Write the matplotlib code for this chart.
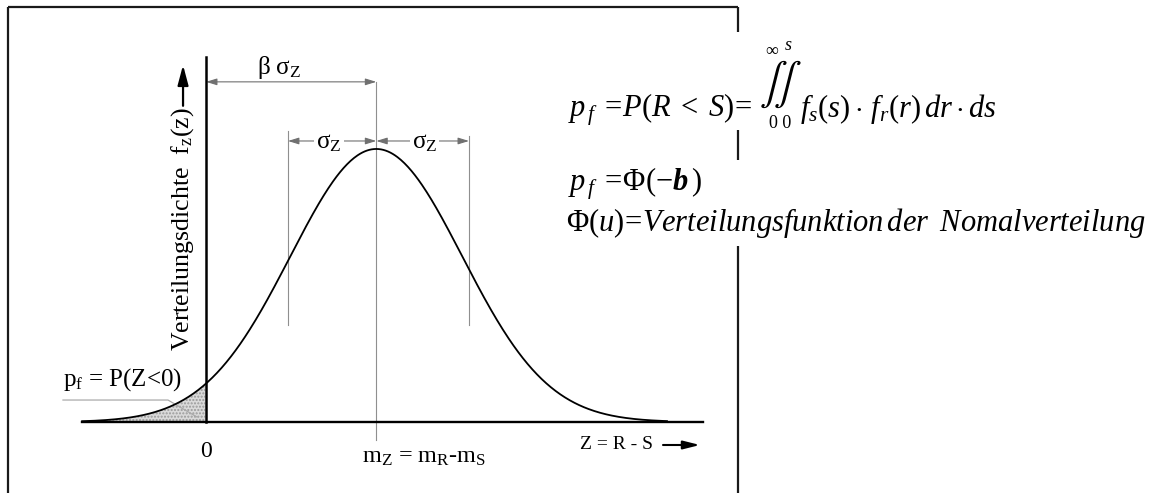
import numpy as np
import matplotlib
matplotlib.use('Agg')
import matplotlib.pyplot as plt
from matplotlib.lines import Line2D

plt.rcParams['font.family'] = ['Liberation Serif', 'DejaVu Serif']
plt.rcParams['mathtext.fontset'] = 'custom'
plt.rcParams['mathtext.rm'] = 'Liberation Serif'
plt.rcParams['mathtext.it'] = 'Liberation Serif:italic'
plt.rcParams['mathtext.bf'] = 'Liberation Serif:italic:bold'

W, H = 1160, 493

# safety margin Z = R - S, measured in units of sigma_Z
SIGMA_Z = 1.0
BETA = 1.98                  # m_Z = beta * sigma_Z
CURVE_RANGE = (-1.44, 5.36)
SIGMA_MARKS = [0.953, 3.058]
SIGMA_TOPS = [0.425, 0.418]
SIGMA_BOTTOM = 0.142
AXIS_X = (-1.442, 5.78)
AXIS_Y_TOP = 0.533

# labels
LBL_YAXIS = r'Verteilungsdichte  f$_\mathrm{z}$(z)'
LBL_XAXIS = 'Z = R - S'
LBL_ZERO = '0'
LBL_MEAN = r'm$_\mathrm{Z}$ = m$_\mathrm{R}$-m$_\mathrm{S}$'
LBL_PF = r'p$_\mathrm{f}$ = P(Z<0)'
LBL_BETA = r'β σ$_\mathrm{Z}$'
LBL_SIGMA = r'σ$_\mathrm{Z}$'

FORMULA_1A = r'$p_{\,f}\;=\!P(R\;<\;S)\!=$'
FORMULA_1B = r'$f_s(s)\cdot\,f_r(r)\,dr\cdot ds$'
FORMULA_2 = r'$p_{\,f}\;=\!\Phi(-\mathbf{b}\,)$'
FORMULA_3 = r'$\Phi(u)\!=\!Verteilungsfunktion\,der\;\;Nomalverteilung$'

PX_X, PX_Y = 86.0, 684.4     # pixels per unit on each axis
ORIGIN = (206, 422)          # pixel position of (0, 0)


def fpx(x, y):
    """ pixel position -> figure fraction """
    return x / W, 1 - y / H


def pdf(z):
    return np.exp(-0.5 * ((z - BETA) / SIGMA_Z) ** 2) / (SIGMA_Z * np.sqrt(2 * np.pi))


fig = plt.figure(figsize=(W / 100, H / 100), dpi=100)
ax = fig.add_axes([0, 0, 1, 1])
ax.set_xlim(-ORIGIN[0] / PX_X, (W - ORIGIN[0]) / PX_X)
ax.set_ylim(-(H - ORIGIN[1]) / PX_Y, ORIGIN[1] / PX_Y)
ax.axis('off')

# frame (interrupted on the right by the formula block)
frame = [((8, 7), (738, 7)), ((8, 7), (8, 493)),
         ((738, 7), (738, 32)), ((738, 130), (738, 160)), ((738, 246), (738, 493))]
for p0, p1 in frame:
    (x0, y0), (x1, y1) = fpx(*p0), fpx(*p1)
    fig.add_artist(Line2D([x0, x1], [y0, y1], color='#1a1a1a', lw=1.6,
                          transform=fig.transFigure, solid_capstyle='butt'))

z = np.linspace(CURVE_RANGE[0], CURVE_RANGE[1], 500)
f = pdf(z)
tail = z <= 0
ax.fill_between(z[tail], 0, f[tail], facecolor='#dadada', edgecolor='#9a9a9a',
                hatch='.....', linewidth=0, zorder=1)
ax.plot(z, f, color='black', lw=1.3, zorder=3)

# axes
ax.plot(AXIS_X, [0, 0], color='black', lw=1.7, zorder=4)
ax.plot([0, 0], [0, AXIS_Y_TOP], color='black', lw=1.8, zorder=4)

# helper lines
grey = '#8f8f8f'
ax.plot([BETA, BETA], [-0.026, 0.497], color=grey, lw=0.8, zorder=2)
for xm, top in zip(SIGMA_MARKS, SIGMA_TOPS):
    ax.plot([xm, xm], [SIGMA_BOTTOM, top], color=grey, lw=0.8, zorder=2)

arrow = dict(arrowstyle='<|-|>,head_length=0.65,head_width=0.2', color='#707070',
             lw=0.8, shrinkA=0, shrinkB=0)
ax.annotate('', xy=(BETA, 0.497), xytext=(0, 0.497), arrowprops=arrow)
ax.annotate('', xy=(BETA, 0.4106), xytext=(SIGMA_MARKS[0], 0.4106), arrowprops=arrow)
ax.annotate('', xy=(SIGMA_MARKS[1], 0.4106), xytext=(BETA, 0.4106), arrowprops=arrow)

ax.text(0.85, 0.518, LBL_BETA, fontsize=18, ha='center', va='center')
box = dict(facecolor='white', edgecolor='none', pad=1.5)
ax.text(1.43, 0.407, LBL_SIGMA, fontsize=18, ha='center', va='center', bbox=box, zorder=5)
ax.text(2.54, 0.407, LBL_SIGMA, fontsize=18, ha='center', va='center', bbox=box, zorder=5)

# y label with arrow
ax.text(-0.267, 0.282, LBL_YAXIS, fontsize=18.6, rotation=90, ha='center', va='center')
ax.annotate('', xy=(-0.267, 0.5216), xytext=(-0.267, 0.462),
            arrowprops=dict(arrowstyle='-|>,head_length=1.2,head_width=0.32',
                            color='black', lw=1.6, shrinkA=0, shrinkB=0))

# x label with arrow
ax.text(4.77, -0.0336, LBL_XAXIS, fontsize=14, ha='center', va='center')
ax.annotate('', xy=(5.744, -0.0336), xytext=(5.314, -0.0336),
            arrowprops=dict(arrowstyle='-|>,head_length=1.0,head_width=0.25',
                            color='black', lw=1.5, shrinkA=0, shrinkB=0))

ax.text(0, -0.0438, LBL_ZERO, fontsize=17, ha='center', va='center')
ax.text(2.541, -0.0526, LBL_MEAN, fontsize=17.5, ha='center', va='center')

# failure probability label and leader
ax.text(-0.971, 0.0526, LBL_PF, fontsize=18, ha='center', va='baseline')
ax.plot([-1.663, -0.442, -0.105], [0.0321, 0.0321, 0.0073], color='#aaaaaa', lw=0.9, zorder=2)

# formulas
fs = 22
fig.text(*fpx(568, 117), FORMULA_1A, fontsize=fs, ha='left', va='baseline')
fig.text(*fpx(780, 84), r'$\int\!\int$', fontsize=30, ha='center', va='center',
         math_fontfamily='stix')
fig.text(*fpx(772, 49), r'$\infty$', fontsize=13, ha='center', va='center')
fig.text(*fpx(788, 46), r'$s$', fontsize=13, ha='center', va='center')
fig.text(*fpx(780, 123), '0 0', fontsize=13, ha='center', va='center')
fig.text(*fpx(800, 117), FORMULA_1B, fontsize=fs, ha='left', va='baseline')
fig.text(*fpx(568, 190), FORMULA_2, fontsize=fs, ha='left', va='baseline')
fig.text(*fpx(566, 231), FORMULA_3, fontsize=fs, ha='left', va='baseline')

fig.savefig('out.png', dpi=100, facecolor='white')
